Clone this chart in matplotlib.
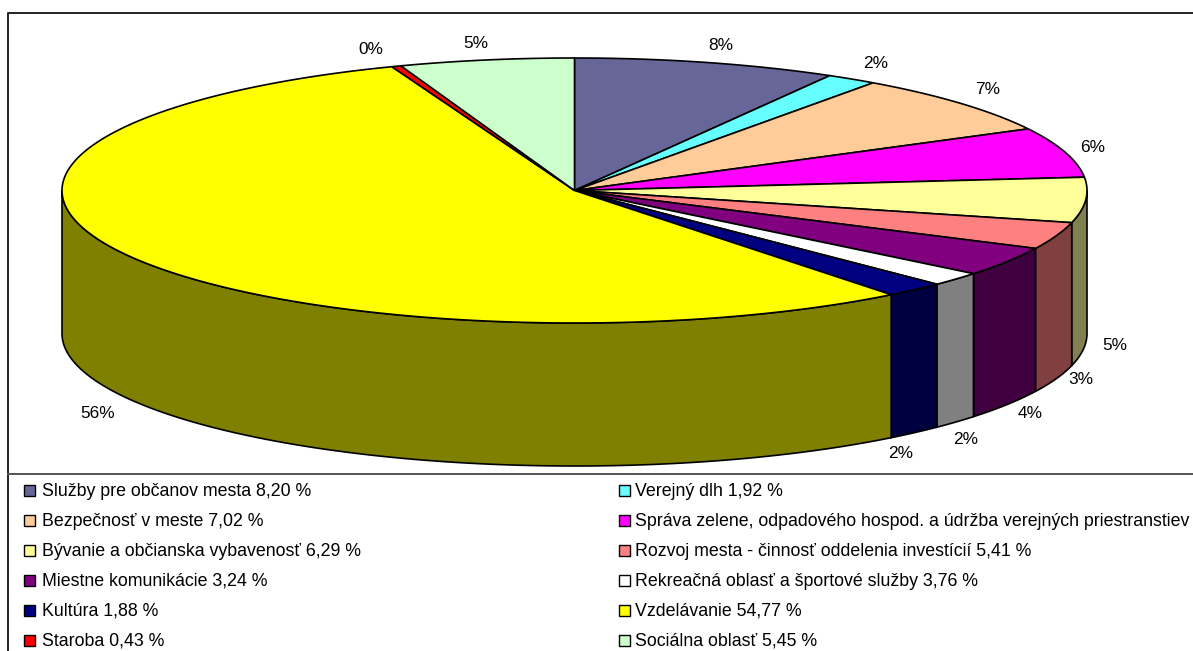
import numpy as np
import matplotlib
matplotlib.use("Agg")
import matplotlib.pyplot as plt
from matplotlib.patches import Rectangle

plt.rcParams["font.family"] = ["Liberation Sans", "DejaVu Sans"]

# =========================
# DATA
# =========================

# slice shares as drawn, clockwise from 12 o'clock
shares = [8.3, 1.6, 7.4, 6.1, 5.5, 3.3, 3.6, 1.7, 1.9, 54.8, 0.3, 5.5]
pct_labels = ["8%", "2%", "7%", "6%", "5%", "3%", "4%", "2%", "2%", "56%", "0%", "5%"]
legend_labels = [
    "Služby pre občanov mesta 8,20 %",
    "Verejný dlh 1,92 %",
    "Bezpečnosť v meste 7,02 %",
    "Správa zelene, odpadového hospod. a údržba verejných priestranstiev",
    "Bývanie a občianska vybavenosť 6,29 %",
    "Rozvoj mesta - činnosť oddelenia investícií 5,41 %",
    "Miestne komunikácie 3,24 %",
    "Rekreačná oblasť a športové služby 3,76 %",
    "Kultúra 1,88 %",
    "Vzdelávanie 54,77 %",
    "Staroba 0,43 %",
    "Sociálna oblasť 5,45 %",
]

# =========================
# STYLE / LAYOUT (pixels)
# =========================

top_colors = ["#666699", "#66FFFF", "#FFCC99", "#FF00FF", "#FFFF99", "#FF8080",
              "#800080", "#FFFFFF", "#000080", "#FFFF00", "#FF0000", "#CCFFCC"]
side_colors = ["#333366", "#338080", "#806650", "#800080", "#808050", "#804040",
               "#400040", "#808080", "#000040", "#808000", "#800000", "#668066"]

CX, CY = 574.5, 190.5
RX, RY = 512.5, 132.5
DEPTH = 143

label_xy = [(721, 46), (876, 64), (988, 90), (1093, 147), (1115, 345), (1081, 379),
            (1030, 414), (966, 439), (901, 453), (98, 413), (371, 49), (476, 43)]

fig = plt.figure(figsize=(11.93, 6.51), dpi=100)
ax = fig.add_axes([0, 0, 1, 1])
ax.set_xlim(0, 1193)
ax.set_ylim(651, 0)
ax.axis("off")


def rim(a0, a1, n=200):
    t = np.radians(np.linspace(a0, a1, n))
    return CX + RX * np.sin(t), CY - RY * np.cos(t)


# =========================
# PIE
# =========================

edges = np.cumsum([0] + shares) / sum(shares) * 360

# side walls, only the front half of the rim is visible
for i in range(len(shares)):
    a0 = max(edges[i], 90)
    a1 = min(edges[i + 1], 270)
    if a1 <= a0:
        continue
    x, y = rim(a0, a1)
    ax.fill(np.r_[x, x[::-1]], np.r_[y, y[::-1] + DEPTH],
            facecolor=side_colors[i], edgecolor="black", lw=1.2, zorder=2)

# top face
for i in range(len(shares)):
    x, y = rim(edges[i], edges[i + 1])
    ax.fill(np.r_[CX, x], np.r_[CY, y],
            facecolor=top_colors[i], edgecolor="black", lw=1.2, zorder=3)

for text, (x, y) in zip(pct_labels, label_xy):
    ax.text(x, y, text, fontsize=12.4, ha="center", va="center", color="black")

# =========================
# FRAME AND LEGEND
# =========================

ax.plot([1193, 8, 8], [12.5, 12.5, 651], color="#222222", lw=1.4, zorder=5)
ax.plot([8, 1193], [474, 474], color="#555555", lw=1.4, zorder=5)

for i, text in enumerate(legend_labels):
    row = i // 2
    y = 490 + row * 30
    sx, tx = (24, 42) if i % 2 == 0 else (619, 635)
    ax.add_patch(Rectangle((sx, y - 5.5), 11, 11, facecolor=top_colors[i],
                           edgecolor="black", lw=1, zorder=5))
    ax.text(tx, y + 5.5, text, fontsize=12.75, ha="left", va="baseline", color="black")

fig.savefig("out.png", dpi=100)
plt.close(fig)
